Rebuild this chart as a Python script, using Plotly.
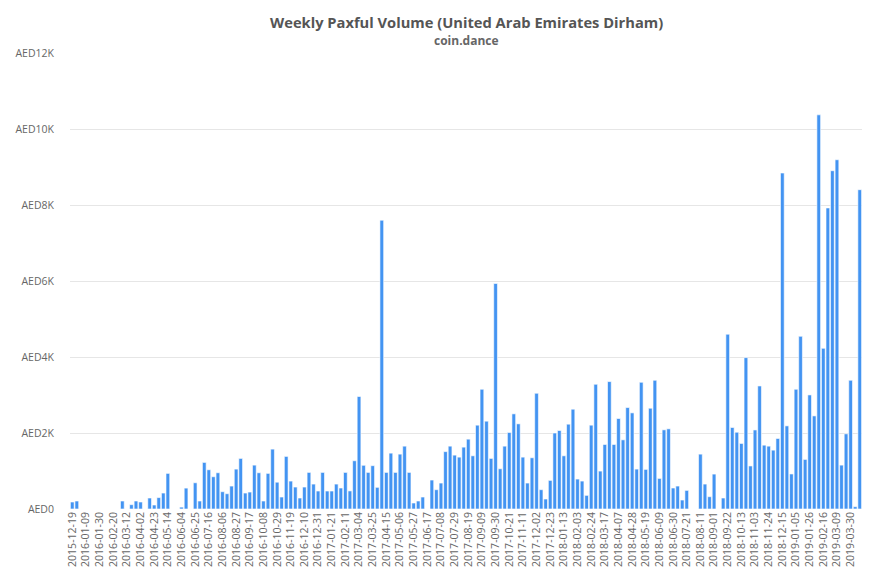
import datetime as dt
import plotly.graph_objects as go

start_date = dt.date(2015, 12, 19)

volumes = [
    184, 210, 0, 0, 0, 0, 0, 0, 0, 0,
    0, 210, 0, 114, 210, 184, 0, 289, 105, 300,
    420, 937, 0, 0, 50, 550, 0, 690, 210, 1226,
    1032, 849, 954, 455, 402, 604, 1050, 1331, 420, 446,
    1155, 954, 210, 937, 1576, 705, 315, 1384, 735, 578,
    289, 578, 963, 656, 473, 963, 473, 473, 656, 552,
    963, 476, 1270, 2960, 1150, 963, 1140, 570, 7600, 963,
    1470, 963, 1444, 1654, 963, 158, 210, 315, 0, 762,
    508, 683, 1510, 1654, 1418, 1365, 1628, 1838, 1400, 2206,
    3151, 2311, 1331, 5935, 1059, 1654, 2014, 2504, 2241, 1365,
    683, 1348, 3046, 508, 263, 753, 2000, 2066, 1400, 2232,
    2626, 788, 735, 359, 2206, 3283, 998, 1698, 3353, 1698,
    2381, 1820, 2670, 2530, 1050, 3335, 1042, 2652, 3388, 805,
    2083, 2110, 552, 604, 236, 490, 0, 0, 1444, 656,
    324, 919, 0, 289, 4600, 2145, 2020, 1725, 3984, 1133,
    2080, 3238, 1680, 1654, 1549, 1856, 8842, 2188, 922, 3151,
    4545, 1305, 3002, 2450, 10373, 4228, 7923, 8902, 9191, 1155,
    1978, 3388, 61, 8403,
]

weeks = [(start_date + dt.timedelta(weeks=i)).isoformat() for i in range(len(volumes))]
tick_weeks = weeks[::3]

y_tick_values = [0, 2000, 4000, 6000, 8000, 10000, 12000]
y_tick_labels = ["AED0", "AED2K", "AED4K", "AED6K", "AED8K", "AED10K", "AED12K"]

fig = go.Figure(
    go.Bar(
        x=weeks,
        y=volumes,
        marker=dict(color="#4394f2", line=dict(color="#ffffff", width=0.6)),
        hovertemplate="%{x}<br>AED%{y:,.0f}<extra></extra>",
    )
)

font_family = "Open Sans, DejaVu Sans, sans-serif"

# page body adds an 8px offset, so the figure is sized to fit the window
fig.update_layout(
    width=869,
    height=577,
    margin=dict(l=62, r=15, t=45, b=76),
    paper_bgcolor="#ffffff",
    plot_bgcolor="#ffffff",
    bargap=0.18,
    showlegend=False,
    font=dict(family=font_family, color="#666666", size=11),
    annotations=[
        dict(
            text="<b>Weekly Paxful Volume (United Arab Emirates Dirham)</b>",
            xref="paper", yref="paper", x=0.5, y=1.0, yshift=31,
            xanchor="center", yanchor="middle", showarrow=False,
            font=dict(size=14.7, color="#555555", family=font_family),
        ),
        dict(
            text="<b>coin.dance</b>",
            xref="paper", yref="paper", x=0.5, y=1.0, yshift=13,
            xanchor="center", yanchor="middle", showarrow=False,
            font=dict(size=12, color="#666666", family=font_family),
        ),
    ],
)

fig.update_xaxes(
    type="category",
    tickmode="array",
    tickvals=tick_weeks,
    ticktext=tick_weeks,
    tickangle=-90,
    tickfont=dict(size=10.5, color="#666666"),
    showgrid=False,
    showline=False,
    ticks="",
    ticklabelstandoff=0,
    automargin=False,
)

fig.update_yaxes(
    range=[0, 12000],
    tickmode="array",
    tickvals=y_tick_values,
    ticktext=y_tick_labels,
    tickfont=dict(size=10.5, color="#666666"),
    showgrid=True,
    gridcolor="#e6e6e6",
    gridwidth=1,
    zeroline=False,
    showline=False,
    ticks="",
    ticklabelstandoff=15,
    automargin=False,
)

fig.write_html("out.html")
